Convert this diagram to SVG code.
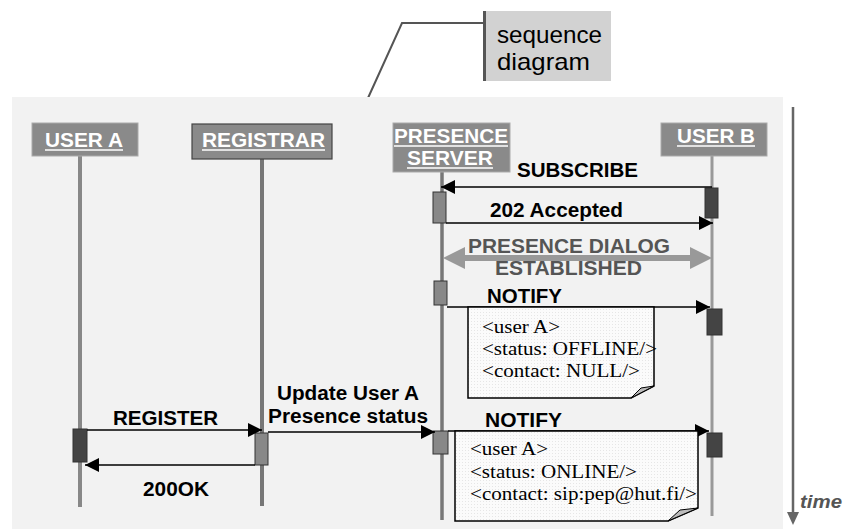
<svg xmlns="http://www.w3.org/2000/svg" width="845" height="529" viewBox="0 0 845 529">
  <defs>
    <marker id="arrow" markerUnits="userSpaceOnUse" markerWidth="14" markerHeight="14" viewBox="0 0 14 14" refX="14" refY="7" orient="auto">
      <path d="M0,0 L14,7 L0,14 Z" fill="#000"/>
    </marker>
    <pattern id="dots" width="3" height="3" patternUnits="userSpaceOnUse">
      <rect width="3" height="3" fill="#fbfbfb"/>
      <rect width="1" height="1" fill="#e6e6e6"/>
    </pattern>
  </defs>
  <style>
    .hdr { fill: #8a8a8a; }
    .hdr-t { font-family: "Liberation Sans", Arial, sans-serif; font-weight: bold; font-size: 21px; fill: #fff; }
    .ul { stroke: #fff; stroke-width: 1.5; }
    .msg { stroke: #000; stroke-width: 1.5; fill: none; marker-end: url(#arrow); }
    .lbl { font-family: "Liberation Sans", Arial, sans-serif; font-weight: bold; font-size: 20px; fill: #000; }
    .lbl-g { fill: #555; }
    .act-l { fill: #888; stroke: #333; stroke-width: 1; }
    .act-d { fill: #444; stroke: #333; stroke-width: 1; }
    .note { fill: url(#dots); stroke: #000; stroke-width: 1.5; }
    .fold { fill: #bbb; stroke: #000; stroke-width: 1; }
    .note-t { font-family: "Liberation Serif", "Times New Roman", serif; font-size: 19px; fill: #000; }
  </style>

  <!-- callout -->
  <g id="callout">
    <polyline points="483,23 402,23 368,98" fill="none" stroke="#555" stroke-width="2"/>
    <rect x="483" y="11" width="128" height="70" fill="#d2d2d2"/>
    <line x1="484.5" y1="11" x2="484.5" y2="81" stroke="#555" stroke-width="3"/>
    <text x="497" y="43" font-family="Liberation Sans, Arial, sans-serif" font-size="24" fill="#000" textLength="105" lengthAdjust="spacingAndGlyphs">sequence</text>
    <text x="497" y="70" font-family="Liberation Sans, Arial, sans-serif" font-size="24" fill="#000" textLength="93" lengthAdjust="spacingAndGlyphs">diagram</text>
  </g>

  <!-- frame -->
  <rect id="frame" x="12" y="97" width="771" height="432" fill="#f2f2f2"/>

  <!-- time axis -->
  <g id="time">
    <line x1="793" y1="107" x2="793" y2="512" stroke="#666" stroke-width="2.5"/>
    <path d="M787,512 L799,512 L793,525 Z" fill="#666"/>
    <text x="800" y="508" font-family="Liberation Sans, Arial, sans-serif" font-weight="bold" font-style="italic" font-size="19" fill="#555" textLength="42" lengthAdjust="spacingAndGlyphs">time</text>
  </g>

  <!-- lifelines -->
  <g id="lifelines">
    <line x1="80" y1="156" x2="80" y2="507" stroke="#888" stroke-width="4"/>
    <line x1="262" y1="159" x2="262" y2="506" stroke="#777" stroke-width="4"/>
    <line x1="442" y1="172" x2="442" y2="520" stroke="#777" stroke-width="3.5"/>
    <line x1="712" y1="156" x2="712" y2="516" stroke="#999" stroke-width="3"/>
  </g>

  <!-- participants -->
  <g id="user-a">
    <rect class="hdr" x="32" y="123" width="106" height="33" stroke="#aaa" stroke-width="1"/>
    <text class="hdr-t" x="45" y="147" textLength="78" lengthAdjust="spacingAndGlyphs">USER A</text>
    <line class="ul" x1="45" y1="150" x2="123" y2="150"/>
  </g>
  <g id="registrar">
    <rect class="hdr" x="192" y="124" width="140" height="35" stroke="#444" stroke-width="1.2"/>
    <text class="hdr-t" x="202" y="147" textLength="123" lengthAdjust="spacingAndGlyphs">REGISTRAR</text>
    <line class="ul" x1="202" y1="150" x2="325" y2="150"/>
  </g>
  <g id="presence-server">
    <rect class="hdr" x="393" y="123" width="117" height="49" stroke="#aaa" stroke-width="1"/>
    <text class="hdr-t" x="394" y="143" textLength="114" lengthAdjust="spacingAndGlyphs">PRESENCE</text>
    <line class="ul" x1="394" y1="146" x2="508" y2="146"/>
    <text class="hdr-t" x="407" y="165" textLength="86" lengthAdjust="spacingAndGlyphs">SERVER</text>
    <line class="ul" x1="407" y1="168" x2="493" y2="168"/>
  </g>
  <g id="user-b">
    <rect class="hdr" x="661" y="123" width="106" height="33" stroke="#aaa" stroke-width="1"/>
    <text class="hdr-t" x="677" y="143" textLength="78" lengthAdjust="spacingAndGlyphs">USER B</text>
    <line class="ul" x1="677" y1="146" x2="755" y2="146"/>
  </g>

  <!-- activations -->
  <g id="activations">
    <rect class="act-l" x="433" y="192" width="13" height="31"/>
    <rect class="act-d" x="705" y="188" width="13" height="30"/>
    <rect class="act-l" x="434" y="281" width="13" height="24"/>
    <rect class="act-d" x="707" y="309" width="15" height="26"/>
    <rect class="act-d" x="73" y="429" width="14" height="33"/>
    <rect class="act-l" x="255" y="433" width="13" height="32"/>
    <rect class="act-l" x="433" y="431" width="15" height="23"/>
    <rect class="act-d" x="707" y="433" width="15" height="24"/>
  </g>

  <!-- messages -->
  <g id="connectors">
    <line class="msg" x1="712" y1="187" x2="441" y2="187"/>
    <line class="msg" x1="446" y1="223" x2="713" y2="223"/>
    <path d="M443,258 L465,247 L465,255 L690,255 L690,247 L712,258 L690,269 L690,261 L465,261 L465,269 Z" fill="#999"/>
    <line class="msg" x1="447" y1="307" x2="710" y2="307"/>
    <line class="msg" x1="87" y1="430" x2="262" y2="430"/>
    <line class="msg" x1="255" y1="465" x2="85" y2="465"/>
    <line class="msg" x1="268" y1="432" x2="435" y2="432"/>
    <line class="msg" x1="448" y1="431" x2="709" y2="431"/>
  </g>

  <!-- message labels -->
  <g id="labels">
    <text class="lbl" x="517" y="177" textLength="121" lengthAdjust="spacingAndGlyphs">SUBSCRIBE</text>
    <text class="lbl" x="490" y="217" textLength="133" lengthAdjust="spacingAndGlyphs">202 Accepted</text>
    <text class="lbl lbl-g" x="468" y="253" textLength="202" lengthAdjust="spacingAndGlyphs">PRESENCE DIALOG</text>
    <text class="lbl lbl-g" x="495" y="275" textLength="147" lengthAdjust="spacingAndGlyphs">ESTABLISHED</text>
    <text class="lbl" x="487" y="303" textLength="75" lengthAdjust="spacingAndGlyphs">NOTIFY</text>
    <text class="lbl" x="113" y="425" textLength="105" lengthAdjust="spacingAndGlyphs">REGISTER</text>
    <text class="lbl" x="143" y="496" textLength="66" lengthAdjust="spacingAndGlyphs">200OK</text>
    <text class="lbl" x="277" y="400" textLength="142" lengthAdjust="spacingAndGlyphs">Update User A</text>
    <text class="lbl" x="268" y="423" textLength="160" lengthAdjust="spacingAndGlyphs">Presence status</text>
    <text class="lbl" x="485" y="427" textLength="77" lengthAdjust="spacingAndGlyphs">NOTIFY</text>
  </g>

  <!-- notes -->
  <g id="note-offline">
    <path class="note" d="M468,307 L654,307 L654,386 L631,398 L468,398 Z"/>
    <path class="fold" d="M631,398 L641,388 L654,386 Z"/>
    <text class="note-t" x="482" y="333" textLength="78" lengthAdjust="spacingAndGlyphs">&lt;user A&gt;</text>
    <text class="note-t" x="482" y="355" textLength="175" lengthAdjust="spacingAndGlyphs">&lt;status: OFFLINE/&gt;</text>
    <text class="note-t" x="482" y="377" textLength="158" lengthAdjust="spacingAndGlyphs">&lt;contact: NULL/&gt;</text>
  </g>
  <g id="note-online">
    <path class="note" d="M455,431 L698,431 L698,508 L668,521 L455,521 Z"/>
    <path class="fold" d="M668,521 L680,510 L698,508 Z"/>
    <text class="note-t" x="470" y="455" textLength="78" lengthAdjust="spacingAndGlyphs">&lt;user A&gt;</text>
    <text class="note-t" x="470" y="478" textLength="167" lengthAdjust="spacingAndGlyphs">&lt;status: ONLINE/&gt;</text>
    <text class="note-t" x="470" y="500" textLength="227" lengthAdjust="spacingAndGlyphs">&lt;contact: sip:pep@hut.fi/&gt;</text>
  </g>
</svg>
